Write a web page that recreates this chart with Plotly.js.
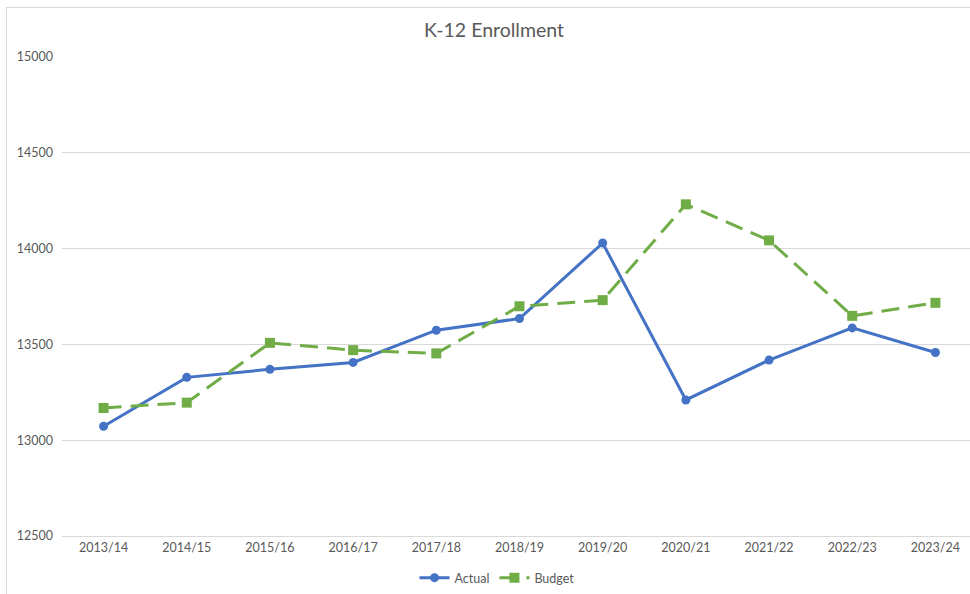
<!DOCTYPE html>
<html>
<head>
<meta charset="utf-8">
<script src="https://cdn.plot.ly/plotly-3.0.1.min.js"></script>
<style>
html,body{margin:0;padding:0;background:#fff;overflow:hidden;width:970px;height:594px;}
#frame{position:absolute;left:6px;top:7px;width:980px;height:600px;border:1px solid #d9d9d9;box-sizing:border-box;}
#chart{position:absolute;left:0;top:0;}
</style>
</head>
<body>
<div id="frame"></div>
<div id="chart"></div>
<script>
const categories = ["2013/14","2014/15","2015/16","2016/17","2017/18","2018/19","2019/20","2020/21","2021/22","2022/23","2023/24"];
const actual = [13073, 13328, 13370, 13406, 13574, 13635, 14029, 13210, 13418, 13586, 13458];
const budget = [13168, 13196, 13508, 13470, 13453, 13699, 13731, 14231, 14043, 13649, 13717];
const yTicks = [12500, 13000, 13500, 14000, 14500, 15000];

const traces = [
  {x: categories, y: actual, name: "Actual", type: "scatter", mode: "lines+markers",
   line: {color: "#4472C4", width: 3}, marker: {symbol: "circle", size: 9, color: "#4472C4"}},
  {x: categories, y: budget, name: "Budget", type: "scatter", mode: "lines+markers",
   line: {color: "#70AD47", width: 3, dash: "18px,9px"}, marker: {symbol: "square", size: 10, color: "#70AD47"}}
];

const layout = {
  width: 980, height: 594,
  margin: {l: 62, r: 3, t: 57, b: 58, autoexpand: false},
  paper_bgcolor: "rgba(0,0,0,0)", plot_bgcolor: "rgba(0,0,0,0)",
  font: {family: "Lato, Carlito, sans-serif", color: "#595959", size: 12},
  title: {text: "K-12 Enrollment", font: {size: 19.5, color: "#595959", family: "Lato, sans-serif"}, x: 494/980, xanchor: "center", xref: "container", y: 1 - 30/594, yref: "container", yanchor: "middle"},
  xaxis: {type: "category", range: [-0.5, 10.5], showgrid: false, zeroline: false,
          showline: true, linecolor: "#d9d9d9", linewidth: 1, ticks: "", tickfont: {size: 12.5, color: "#595959"}, fixedrange: true},
  yaxis: {range: [12500, 15000], tickvals: yTicks, ticktext: yTicks.map(String), showgrid: true, gridcolor: "#d9d9d9", gridwidth: 1,
          zeroline: false, showline: false, ticks: "", tickfont: {size: 12.5, color: "#595959"}, ticklabelstandoff: 8, fixedrange: true},
  showlegend: true,
  legend: {orientation: "h", x: 497/980, xanchor: "center", xref: "container", y: 16/594, yref: "container", yanchor: "middle", font: {size: 12.5, color: "#595959"}}
};

Plotly.newPlot("chart", traces, layout, {displayModeBar: false, staticPlot: true});
</script>
</body>
</html>
